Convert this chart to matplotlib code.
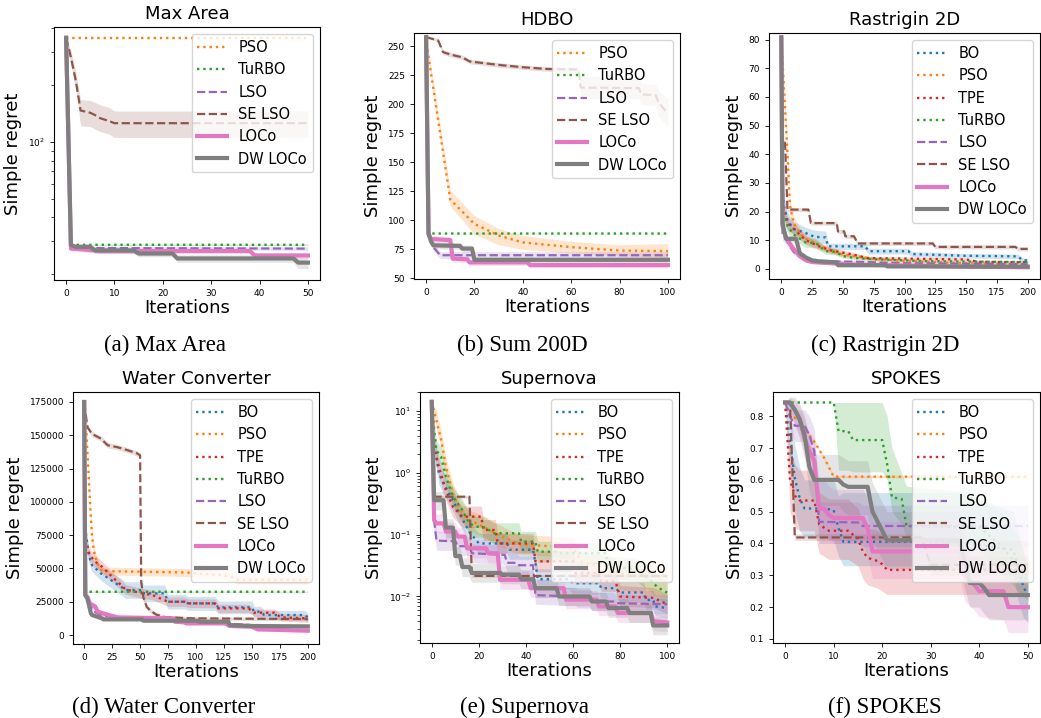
import matplotlib
matplotlib.use("Agg")
import matplotlib.pyplot as plt
from matplotlib.ticker import NullFormatter

# each series: (iteration, mean regret, lower band, upper band)

# ---- Max Area ----
AREA_PSO = [(0, 356, 356, 356), (50, 356, 356, 356)]
AREA_TURBO = [(0, 356, 356, 356), (1, 28.7, 28.4, 29.0), (50, 28.7, 28.4, 29.0)]
AREA_LSO = [(0, 356, 356, 356), (1, 27.6, 27.0, 28.2), (50, 27.4, 26.8, 28.0)]
AREA_SELSO = [(0, 356, 356, 356), (1, 280, 255, 305), (2, 212, 192, 235), (3, 147, 122, 168),
              (5, 143, 121, 166), (6, 139, 117, 162), (7, 134, 114, 158), (9, 129, 110, 152),
              (10, 126, 106, 146), (50, 126, 106, 146)]
AREA_LOCO = [(0, 356, 356, 356), (1, 27.4, 26.6, 28.2), (3, 27.2, 26.4, 28.0), (7, 26.6, 25.8, 27.4),
             (38, 26.6, 25.8, 27.4), (39, 25.2, 24.4, 26.0), (50, 25.2, 24.4, 26.0)]
AREA_DW = [(0, 356, 356, 356), (1, 28.6, 27.8, 29.4), (2, 28.0, 27.2, 28.8), (5, 28.0, 27.2, 28.8),
           (6, 26.8, 25.8, 27.8), (14, 26.8, 25.8, 27.8), (15, 25.8, 24.8, 26.8), (22, 25.8, 24.8, 26.8),
           (23, 24.3, 23.2, 25.4), (47, 24.3, 23.2, 25.4), (48, 23.1, 21.5, 24.6), (50, 23.1, 21.5, 24.6)]

# ---- HDBO (Sum 200D) ----
HDBO_PSO = [(0, 258, 258, 258), (1, 241, 237, 245), (10, 118, 112, 126), (20, 97, 88, 104),
            (30, 87, 79, 93), (40, 81, 75, 87), (60, 77, 72, 82), (80, 74, 69.5, 79), (100, 73.5, 68, 80)]
HDBO_TURBO = [(0, 258, 258, 258), (1, 88.7, 88.4, 89.0), (100, 88.7, 88.4, 89.0)]
HDBO_LSO = [(0, 258, 258, 258), (1, 88, 86, 90), (2, 82, 79, 85), (3, 77, 74, 80), (5, 72, 69, 75),
            (6, 70, 67, 73), (100, 70, 67, 73)]
HDBO_SELSO = [(0, 258, 257, 259), (5, 255, 254, 257), (7, 245, 243, 247), (10, 243, 241, 245),
              (15, 240.5, 238.5, 242.5), (18, 237, 235, 239), (20, 236.5, 234.5, 238.5),
              (30, 234, 232, 236), (40, 232, 230, 234), (50, 230.5, 228.5, 232.5), (63, 230, 228, 232),
              (64, 214.5, 205, 224), (88, 214, 205, 224), (89, 208.5, 200, 218), (95, 208, 199, 217),
              (96, 202, 190, 212), (100, 192, 181, 205)]
HDBO_LOCO = [(0, 258, 258, 258), (1, 88, 85, 91), (2, 84, 81, 87), (10, 83, 80, 86), (11, 67, 64, 70),
             (17, 66.5, 63.5, 69.5), (18, 63.8, 61, 66.5), (42, 63.8, 61, 66.5), (43, 61.5, 59, 64),
             (100, 61.5, 59, 64)]
HDBO_DW = [(0, 258, 258, 258), (1, 89, 86, 92), (2, 82, 79, 85), (3, 78.5, 75.5, 81.5), (14, 78, 75, 81),
           (15, 75.7, 72.7, 78.7), (19, 75.7, 72.7, 78.7), (20, 66, 63.5, 68.5), (100, 66, 63.5, 68.5)]

# ---- Rastrigin 2D ----
RAST_BO = [(0, 80.8, 80.8, 80.8), (1, 30, 25, 35), (2, 22, 18, 26), (5, 17, 14, 20), (10, 14, 12, 16.5),
           (20, 12.5, 10.5, 14.5), (27, 11.2, 9, 13.5), (36, 11, 8.8, 13.2), (38, 7.9, 6.8, 9),
           (68, 7.9, 6.8, 9), (71, 6.2, 5.2, 7.2), (103, 6.2, 5.2, 7.2), (106, 5.2, 4.3, 6.1),
           (150, 4.6, 3.8, 5.4), (192, 4.4, 3.6, 5.2), (196, 3.0, 2.3, 3.8), (200, 3.0, 2.3, 3.8)]
RAST_PSO = [(0, 80.8, 80.8, 80.8), (2, 64, 60, 68), (5, 40, 36, 44), (7, 22, 19, 25), (10, 16, 13.5, 18.5),
            (15, 12.5, 10.5, 14.5), (20, 10.5, 9, 12), (25, 9.5, 8, 11), (30, 8.5, 7.2, 9.8),
            (40, 6.5, 5.5, 7.5), (50, 5, 4.2, 5.8), (60, 4.5, 3.8, 5.2), (75, 3.5, 2.9, 4.1),
            (100, 2.8, 2.3, 3.3), (150, 2.0, 1.6, 2.4), (200, 1.5, 1.2, 1.8)]
RAST_TPE = [(0, 80.8, 80.8, 80.8), (1, 22, 18, 26), (5, 16, 13.5, 18.5), (10, 14, 12, 16), (20, 10, 8.5, 11.5),
            (30, 8, 6.8, 9.2), (40, 6.5, 5.5, 7.5), (49, 5.8, 4.9, 6.7), (60, 4.8, 4, 5.6), (70, 3.8, 3.2, 4.4),
            (150, 3.3, 2.8, 3.8), (160, 2.5, 2.1, 2.9), (200, 2.3, 1.9, 2.7)]
RAST_TURBO = [(0, 80.8, 80.8, 80.8), (1, 20, 17, 23), (5, 15, 12.5, 17.5), (10, 12, 10, 14), (20, 9.2, 7.5, 10.9),
              (28, 9, 7.3, 10.7), (36, 6.2, 5.1, 7.3), (44, 6, 4.9, 7.1), (50, 4.5, 3.8, 5.2),
              (60, 3.8, 3.2, 4.4), (75, 3.4, 2.9, 3.9), (100, 3.0, 2.5, 3.5), (120, 2.7, 2.3, 3.1),
              (200, 2.4, 2.0, 2.8)]
RAST_LSO = [(0, 80.8, 80.8, 80.8), (1, 12, 10, 14), (5, 9.5, 7.8, 11.2), (10, 6, 4.9, 7.1), (15, 4.5, 3.6, 5.4),
            (20, 3.2, 2.6, 3.8), (25, 2.6, 2.1, 3.1), (47, 2.6, 2.1, 3.1), (63, 2.5, 2.0, 3.0),
            (100, 2.0, 1.6, 2.4), (200, 1.6, 1.3, 1.9)]
RAST_SELSO = [(0, 80.8, 80.8, 80.8), (1, 44.5, 43.8, 45.2), (3, 44, 43.3, 44.7), (5, 20.7, 20, 21.4),
              (22, 20.7, 20, 21.4), (24, 16, 15.3, 16.7), (45, 16, 15.3, 16.7), (46, 13.1, 12.4, 13.8),
              (51, 13.1, 12.4, 13.8), (52, 11.4, 10.7, 12.1), (59, 11.4, 10.7, 12.1), (62, 8.9, 8.2, 9.6),
              (123, 8.9, 8.2, 9.6), (125, 7.7, 7.0, 8.4), (190, 7.7, 7.0, 8.4), (192, 7.0, 6.3, 7.7),
              (200, 7.0, 6.3, 7.7)]
RAST_LOCO = [(0, 80.8, 80.8, 80.8), (1, 15, 13, 17), (3, 12, 10.2, 13.8), (5, 10, 8.4, 11.6), (10, 7, 5.8, 8.2),
             (15, 4.5, 3.7, 5.3), (20, 3, 2.4, 3.6), (25, 2.4, 1.9, 2.9), (40, 2, 1.6, 2.4),
             (60, 1.5, 1.1, 1.9), (100, 1.2, 0.9, 1.5), (150, 0.8, 0.5, 1.1), (200, 0.6, 0.3, 0.9)]
RAST_DW = [(0, 80.8, 80.8, 80.8), (1, 16, 14.5, 17.5), (2, 13.7, 12.3, 15.1), (4, 10.5, 9.3, 11.7),
           (12, 10.5, 9.3, 11.7), (15, 5.5, 4.6, 6.4), (20, 4, 3.3, 4.7), (25, 3, 2.4, 3.6), (30, 2.7, 2.2, 3.2),
           (45, 2.3, 1.8, 2.8), (46, 1.3, 0.9, 1.7), (85, 1.3, 0.9, 1.7), (86, 0.9, 0.5, 1.3),
           (200, 0.8, 0.4, 1.2)]

# ---- Water Converter ----
WATER_BO = [(0, 175000, 175000, 175000), (1, 80000, 74000, 86000), (4, 60000, 55000, 65000),
            (7, 52500, 47500, 57500), (15, 46250, 41000, 51500), (24, 41250, 35500, 47000),
            (33, 36250, 30000, 42500), (37, 33750, 27500, 40000), (52, 33750, 27500, 40000),
            (53, 31250, 25000, 37500), (72, 31250, 25000, 37500), (75, 25000, 19500, 30500),
            (90, 25000, 19500, 30500), (93, 23750, 18500, 29000), (117, 23750, 18500, 29000),
            (120, 20750, 16000, 25500), (150, 20750, 16000, 25500), (152, 17500, 13500, 21500),
            (158, 17500, 13500, 21500), (161, 15000, 11500, 18500), (197, 15000, 11500, 18500),
            (200, 13250, 10000, 16500)]
WATER_PSO = [(0, 175000, 175000, 175000), (1, 165000, 160000, 170000), (2, 152000, 147000, 157000),
             (3, 135000, 130000, 140000), (4, 120000, 115000, 125000), (5, 103000, 98000, 108000),
             (6, 88000, 83000, 93000), (7, 75000, 70000, 80000), (8, 67000, 62000, 72000),
             (10, 58000, 54000, 62000), (13, 52000, 48500, 55500), (16, 48000, 45000, 51000),
             (90, 47000, 44000, 50000), (123, 45000, 42000, 48000), (132, 43500, 40500, 46500),
             (137, 41500, 38500, 44500), (200, 41500, 38500, 44500)]
WATER_TPE = [(0, 175000, 175000, 175000), (1, 74000, 68000, 80000), (3, 65000, 60000, 70000),
             (5, 60000, 55000, 65000), (10, 55000, 50500, 59500), (16, 51250, 47000, 55500),
             (25, 43750, 40000, 47500), (37, 34250, 30500, 38000), (52, 31250, 27500, 35000),
             (61, 30000, 26500, 33500), (75, 25000, 21500, 28500), (90, 25000, 21500, 28500),
             (93, 23750, 20500, 27000), (117, 23750, 20500, 27000), (120, 20000, 17000, 23000),
             (147, 20000, 17000, 23000), (152, 16750, 14000, 19500), (170, 16750, 14000, 19500),
             (176, 13250, 10500, 16000), (200, 12500, 9500, 15500)]
WATER_TURBO = [(0, 175000, 175000, 175000), (1, 32500, 32000, 33000), (200, 32500, 32000, 33000)]
WATER_LSO = [(0, 175000, 175000, 175000), (1, 30000, 28500, 31500), (5, 22000, 20500, 23500),
             (10, 17000, 15500, 18500), (15, 15000, 13700, 16300), (25, 13500, 12300, 14700),
             (50, 12000, 11000, 13000), (100, 10000, 9000, 11000), (150, 7500, 6500, 8500),
             (200, 6000, 5000, 7000)]
WATER_SELSO = [(0, 175000, 175000, 175000), (1, 168000, 166000, 170000), (3, 156000, 154000, 158000),
               (7, 151000, 149000, 153000), (15, 147500, 145500, 149500), (21, 142500, 140500, 144500),
               (30, 141000, 139000, 143000), (38, 139000, 137000, 141000), (47, 136500, 134500, 138500),
               (50, 135000, 133000, 137000), (51, 40000, 37000, 43000), (53, 28000, 25500, 30500),
               (56, 21000, 19000, 23000), (59, 18500, 16800, 20200), (64, 15500, 14000, 17000),
               (72, 13500, 12200, 14800), (96, 12500, 11200, 13800), (200, 12000, 10700, 13300)]
WATER_LOCO = [(0, 175000, 175000, 175000), (1, 30000, 28000, 32000), (3, 28500, 26500, 30500),
              (5, 23750, 21500, 26000), (10, 21250, 19000, 23500), (12, 17500, 15500, 19500),
              (22, 15000, 13500, 16500), (30, 13250, 12000, 14500), (80, 12500, 11300, 13700),
              (81, 10000, 8800, 11200), (90, 9500, 8300, 10700), (91, 8750, 7500, 10000),
              (126, 8750, 7500, 10000), (130, 6800, 5500, 8100), (150, 6250, 5000, 7500),
              (155, 4250, 3000, 5500), (200, 3250, 2000, 4500)]
WATER_DW = [(0, 175000, 175000, 175000), (1, 30000, 28500, 31500), (3, 27000, 25500, 28500),
            (6, 16250, 15000, 17500), (7, 15000, 13800, 16200), (16, 12500, 11500, 13500),
            (17, 11750, 10800, 12700), (52, 11750, 10800, 12700), (53, 10750, 9800, 11700),
            (102, 10750, 9800, 11700), (103, 10000, 9000, 11000), (129, 10000, 9000, 11000),
            (130, 7500, 6500, 8500), (150, 6750, 5700, 7800), (200, 6500, 5500, 7500)]

# ---- Supernova ----
SN_BO = [(0, 14, 14, 14), (1, 2.97, 2.0, 4.4), (3, 0.98, 0.65, 1.45), (5, 0.67, 0.45, 1.0), (9, 0.36, 0.24, 0.54),
         (12, 0.21, 0.14, 0.31), (16, 0.11, 0.075, 0.16), (20, 0.072, 0.05, 0.105), (32, 0.072, 0.05, 0.105),
         (33, 0.057, 0.04, 0.082), (43, 0.057, 0.04, 0.082), (44, 0.035, 0.024, 0.05),
         (45, 0.019, 0.013, 0.028), (58, 0.019, 0.013, 0.028), (60, 0.0164, 0.011, 0.024),
         (71, 0.0164, 0.011, 0.024), (72, 0.0136, 0.0095, 0.02), (78, 0.0136, 0.0095, 0.02),
         (80, 0.0116, 0.008, 0.017), (90, 0.0116, 0.008, 0.017), (91, 0.0088, 0.0062, 0.0125),
         (94, 0.0088, 0.0062, 0.0125), (95, 0.0069, 0.0049, 0.0097), (100, 0.0065, 0.0046, 0.0092)]
SN_PSO = [(0, 14, 14, 14), (2, 7, 5, 9.8), (4, 3.4, 2.4, 4.8), (6, 1.25, 0.85, 1.8), (9, 0.46, 0.31, 0.68),
          (12, 0.25, 0.17, 0.37), (16, 0.17, 0.115, 0.25), (22, 0.135, 0.09, 0.2), (27, 0.105, 0.07, 0.155),
          (37, 0.07, 0.048, 0.1), (50, 0.065, 0.045, 0.095), (60, 0.06, 0.04, 0.088),
          (64, 0.035, 0.024, 0.052), (75, 0.03, 0.02, 0.045), (80, 0.023, 0.013, 0.037),
          (100, 0.021, 0.0095, 0.035)]
SN_TPE = [(0, 14, 14, 14), (1, 2.6, 1.8, 3.8), (3, 1.25, 0.85, 1.85), (6, 0.52, 0.35, 0.77), (9, 0.28, 0.19, 0.41),
          (13, 0.195, 0.13, 0.29), (21, 0.195, 0.13, 0.29), (22, 0.119, 0.08, 0.175),
          (27, 0.119, 0.08, 0.175), (28, 0.072, 0.05, 0.105), (43, 0.072, 0.05, 0.105),
          (44, 0.037, 0.025, 0.055), (60, 0.037, 0.025, 0.055), (61, 0.024, 0.016, 0.036),
          (71, 0.024, 0.016, 0.036), (72, 0.0175, 0.012, 0.026), (78, 0.0175, 0.012, 0.026),
          (80, 0.010, 0.007, 0.015), (94, 0.0095, 0.0066, 0.014), (100, 0.0075, 0.0052, 0.011)]
SN_TURBO = [(0, 14, 14, 14), (1, 5, 3.5, 7), (2, 2.3, 1.6, 3.3), (4, 1.8, 1.25, 2.6), (6, 0.86, 0.6, 1.25),
            (9, 0.41, 0.28, 0.6), (13, 0.25, 0.17, 0.37), (16, 0.15, 0.1, 0.22), (19, 0.135, 0.09, 0.2),
            (23, 0.13, 0.088, 0.19), (26, 0.105, 0.07, 0.155), (37, 0.105, 0.07, 0.155),
            (38, 0.077, 0.052, 0.113), (44, 0.077, 0.052, 0.113), (45, 0.053, 0.036, 0.078),
            (54, 0.053, 0.036, 0.078), (55, 0.05, 0.034, 0.074), (74, 0.05, 0.034, 0.074),
            (75, 0.03, 0.02, 0.045), (87, 0.028, 0.018, 0.042), (90, 0.022, 0.014, 0.034),
            (93, 0.018, 0.012, 0.028), (96, 0.014, 0.009, 0.022), (100, 0.0115, 0.0075, 0.018)]
SN_LSO = [(0, 14, 14, 14), (1, 0.17, 0.12, 0.24), (2, 0.08, 0.056, 0.114), (10, 0.078, 0.055, 0.11),
          (11, 0.065, 0.046, 0.092), (16, 0.065, 0.046, 0.092), (17, 0.05, 0.035, 0.071),
          (31, 0.047, 0.033, 0.067), (32, 0.035, 0.025, 0.05), (36, 0.035, 0.025, 0.05),
          (37, 0.032, 0.023, 0.045), (43, 0.032, 0.023, 0.045), (44, 0.0105, 0.0075, 0.015),
          (61, 0.010, 0.0071, 0.014), (62, 0.0094, 0.0067, 0.013), (67, 0.0094, 0.0067, 0.013),
          (68, 0.0083, 0.0059, 0.0117), (77, 0.0083, 0.0059, 0.0117), (78, 0.0078, 0.0055, 0.011),
          (100, 0.0075, 0.0053, 0.0106)]
SN_SELSO = [(0, 14, 14, 14), (1, 0.41, 0.39, 0.43), (16, 0.41, 0.39, 0.43), (17, 0.0215, 0.0205, 0.0225),
            (100, 0.0215, 0.0205, 0.0225)]
SN_LOCO = [(0, 14, 14, 14), (1, 0.17, 0.12, 0.24), (2, 0.152, 0.107, 0.215), (5, 0.152, 0.107, 0.215),
           (6, 0.112, 0.079, 0.158), (10, 0.112, 0.079, 0.158), (11, 0.093, 0.066, 0.13),
           (14, 0.093, 0.066, 0.13), (15, 0.06, 0.042, 0.085), (23, 0.06, 0.042, 0.085),
           (24, 0.05, 0.035, 0.071), (28, 0.05, 0.035, 0.071), (29, 0.0186, 0.013, 0.026),
           (41, 0.0186, 0.013, 0.026), (42, 0.0136, 0.0096, 0.019), (56, 0.0136, 0.0096, 0.019),
           (57, 0.0089, 0.0063, 0.0125), (70, 0.0089, 0.0063, 0.0125), (71, 0.0069, 0.0049, 0.0097),
           (78, 0.0069, 0.0049, 0.0097), (79, 0.0054, 0.0038, 0.0076), (93, 0.0054, 0.0038, 0.0076),
           (94, 0.0040, 0.0028, 0.0056), (100, 0.0038, 0.0027, 0.0054)]
SN_DW = [(0, 14, 14, 14), (1, 0.36, 0.25, 0.5), (5, 0.36, 0.25, 0.5), (6, 0.13, 0.09, 0.18), (9, 0.13, 0.09, 0.18),
         (10, 0.045, 0.032, 0.064), (12, 0.045, 0.032, 0.064), (13, 0.030, 0.021, 0.042),
         (16, 0.030, 0.021, 0.042), (17, 0.024, 0.017, 0.034), (29, 0.024, 0.017, 0.034),
         (30, 0.0226, 0.016, 0.032), (37, 0.0226, 0.016, 0.032), (38, 0.019, 0.0134, 0.027),
         (43, 0.019, 0.0134, 0.027), (44, 0.0136, 0.0096, 0.019), (53, 0.0136, 0.0096, 0.019),
         (54, 0.010, 0.0071, 0.014), (67, 0.010, 0.0071, 0.014), (68, 0.0083, 0.0059, 0.0117),
         (74, 0.0083, 0.0059, 0.0117), (75, 0.0065, 0.0046, 0.0092), (83, 0.0065, 0.0046, 0.0092),
         (84, 0.0054, 0.0038, 0.0076), (93, 0.0054, 0.0038, 0.0076), (94, 0.0034, 0.0024, 0.0048),
         (100, 0.0034, 0.0024, 0.0048)]

# ---- SPOKES ----
SP_BO = [(0, 0.843, 0.843, 0.843), (1, 0.72, 0.62, 0.82), (2, 0.605, 0.5, 0.71), (3, 0.542, 0.44, 0.64),
         (4, 0.51, 0.42, 0.6), (8, 0.51, 0.42, 0.6), (10, 0.505, 0.41, 0.6), (11, 0.448, 0.36, 0.55),
         (12, 0.405, 0.33, 0.56), (36, 0.405, 0.33, 0.56), (47, 0.38, 0.3, 0.5), (48, 0.32, 0.22, 0.44),
         (49, 0.27, 0.17, 0.38), (50, 0.23, 0.15, 0.32)]
SP_PSO = [(0, 0.843, 0.843, 0.843), (1, 0.80, 0.796, 0.804), (3, 0.79, 0.786, 0.794), (4, 0.76, 0.756, 0.764),
          (6, 0.72, 0.716, 0.724), (8, 0.67, 0.666, 0.674), (9, 0.64, 0.636, 0.644), (10, 0.61, 0.606, 0.614),
          (50, 0.61, 0.606, 0.614)]
SP_TPE = [(0, 0.843, 0.843, 0.843), (1, 0.6, 0.5, 0.7), (2, 0.55, 0.45, 0.65), (3, 0.535, 0.44, 0.63),
          (6, 0.535, 0.44, 0.63), (7, 0.46, 0.37, 0.56), (9, 0.44, 0.35, 0.54), (13, 0.44, 0.35, 0.54),
          (15, 0.415, 0.33, 0.51), (16, 0.375, 0.29, 0.47), (17, 0.355, 0.27, 0.45), (19, 0.345, 0.26, 0.44),
          (20, 0.335, 0.25, 0.43), (21, 0.317, 0.24, 0.41), (50, 0.317, 0.24, 0.41)]
SP_TURBO = [(0, 0.843, 0.843, 0.843), (10, 0.843, 0.843, 0.843), (11, 0.753, 0.63, 0.843),
            (13, 0.753, 0.63, 0.843), (14, 0.725, 0.625, 0.843), (20, 0.725, 0.625, 0.843),
            (21, 0.65, 0.6, 0.8), (22, 0.545, 0.5, 0.7), (24, 0.54, 0.46, 0.62), (25, 0.455, 0.42, 0.58),
            (40, 0.45, 0.38, 0.56), (44, 0.4, 0.32, 0.5), (48, 0.33, 0.25, 0.42), (50, 0.28, 0.22, 0.34)]
SP_LSO = [(0, 0.843, 0.843, 0.843), (1, 0.80, 0.76, 0.84), (2, 0.77, 0.72, 0.82), (4, 0.77, 0.72, 0.82),
          (5, 0.74, 0.68, 0.8), (6, 0.69, 0.6, 0.76), (7, 0.468, 0.4, 0.53), (15, 0.466, 0.4, 0.53),
          (16, 0.455, 0.39, 0.52), (50, 0.455, 0.39, 0.52)]
SP_SELSO = [(0, 0.843, 0.843, 0.843), (1, 0.843, 0.843, 0.843), (2, 0.419, 0.41, 0.43), (28, 0.419, 0.41, 0.43),
            (30, 0.333, 0.3, 0.36), (50, 0.333, 0.3, 0.36)]
SP_LOCO = [(0, 0.843, 0.843, 0.843), (1, 0.843, 0.82, 0.86), (2, 0.82, 0.78, 0.85), (3, 0.79, 0.74, 0.83),
           (4, 0.73, 0.67, 0.79), (5, 0.69, 0.62, 0.75), (6, 0.66, 0.58, 0.73), (7, 0.51, 0.43, 0.6),
           (8, 0.51, 0.43, 0.6), (9, 0.49, 0.41, 0.58), (10, 0.48, 0.40, 0.57), (16, 0.48, 0.40, 0.57),
           (17, 0.448, 0.36, 0.54), (18, 0.375, 0.29, 0.47), (36, 0.375, 0.29, 0.47), (37, 0.30, 0.22, 0.39),
           (39, 0.27, 0.19, 0.36), (40, 0.25, 0.17, 0.34), (45, 0.25, 0.16, 0.34), (46, 0.20, 0.12, 0.28),
           (50, 0.20, 0.12, 0.28)]
SP_DW = [(0, 0.843, 0.843, 0.843), (1, 0.843, 0.82, 0.86), (2, 0.82, 0.77, 0.86), (3, 0.79, 0.73, 0.84),
         (4, 0.74, 0.67, 0.8), (5, 0.64, 0.56, 0.72), (6, 0.60, 0.52, 0.68), (11, 0.60, 0.52, 0.68),
         (12, 0.585, 0.5, 0.67), (13, 0.578, 0.49, 0.66), (17, 0.578, 0.49, 0.66), (18, 0.50, 0.41, 0.59),
         (19, 0.47, 0.38, 0.56), (20, 0.44, 0.35, 0.53), (21, 0.41, 0.32, 0.5), (36, 0.41, 0.32, 0.5),
         (37, 0.34, 0.26, 0.43), (38, 0.276, 0.2, 0.36), (40, 0.276, 0.2, 0.36), (41, 0.26, 0.18, 0.34),
         (42, 0.238, 0.16, 0.32), (50, 0.238, 0.16, 0.32)]

# color, linestyle, linewidth per method
STYLES = {
    "BO": ("tab:blue", ":", 1.7),
    "PSO": ("tab:orange", ":", 1.7),
    "TPE": ("tab:red", ":", 1.7),
    "TuRBO": ("tab:green", ":", 1.7),
    "LSO": ("tab:purple", "--", 1.6),
    "SE LSO": ("tab:brown", "--", 1.6),
    "LOCo": ("tab:pink", "-", 3.0),
    "DW LOCo": ("tab:gray", "-", 3.0),
}

W, H = 1041, 718
fig = plt.figure(figsize=(W / 100, H / 100), dpi=100)


def add_ax(l, t, r, b):
    return fig.add_axes([l / W, 1 - b / H, (r - l) / W, (b - t) / H])


def panel(ax, series, title, ylim, logy=False):
    for name, data in series:
        c, ls, lw = STYLES[name]
        it = [p[0] for p in data]
        m = [p[1] for p in data]
        lo = [p[2] for p in data]
        hi = [p[3] for p in data]
        ax.fill_between(it, lo, hi, color=c, alpha=0.2, linewidth=0)
        ax.plot(it, m, color=c, linestyle=ls, linewidth=lw, label=name)
    if logy:
        ax.set_yscale("log")
        ax.yaxis.set_minor_formatter(NullFormatter())
    ax.set_ylim(*ylim)
    ax.set_title(title, fontsize=13)
    ax.set_xlabel("Iterations", fontsize=13, labelpad=1)
    ax.set_ylabel("Simple regret", fontsize=13)
    ax.tick_params(labelsize=6.5, length=3, width=0.6)
    ax.tick_params(which="minor", length=2, width=0.5)
    ax.legend(loc="upper right", fontsize=10.5, handlelength=2.0)


six = ["PSO", "TuRBO", "LSO", "SE LSO", "LOCo", "DW LOCo"]
eight = ["BO", "PSO", "TPE", "TuRBO", "LSO", "SE LSO", "LOCo", "DW LOCo"]

area = dict(zip(six, [AREA_PSO, AREA_TURBO, AREA_LSO, AREA_SELSO, AREA_LOCO, AREA_DW]))
hdbo = dict(zip(six, [HDBO_PSO, HDBO_TURBO, HDBO_LSO, HDBO_SELSO, HDBO_LOCO, HDBO_DW]))
rast = dict(zip(eight, [RAST_BO, RAST_PSO, RAST_TPE, RAST_TURBO, RAST_LSO, RAST_SELSO, RAST_LOCO, RAST_DW]))
water = dict(zip(eight, [WATER_BO, WATER_PSO, WATER_TPE, WATER_TURBO, WATER_LSO, WATER_SELSO,
                         WATER_LOCO, WATER_DW]))
sn = dict(zip(eight, [SN_BO, SN_PSO, SN_TPE, SN_TURBO, SN_LSO, SN_SELSO, SN_LOCO, SN_DW]))
sp = dict(zip(eight, [SP_BO, SP_PSO, SP_TPE, SP_TURBO, SP_LSO, SP_SELSO, SP_LOCO, SP_DW]))

panel(add_ax(54, 27, 320, 280), list(area.items()), "Max Area", (18.7, 406), logy=True)
panel(add_ax(414, 33, 680, 279), list(hdbo.items()), "HDBO", (49.5, 261.5))
panel(add_ax(769, 33, 1040, 279), list(rast.items()), "Rastrigin 2D", (-3.5, 82.3))
panel(add_ax(73, 392, 319, 644), list(water.items()), "Water Converter", (-6750, 182500))
panel(add_ax(420, 392, 679, 643), list(sn.items()), "Supernova", (0.00177, 20.2), logy=True)
panel(add_ax(773, 392, 1040, 643), list(sp.items()), "SPOKES", (0.0873, 0.876))

captions = [("(a) Max Area", 165, 345), ("(b) Sum 200D", 522, 345), ("(c) Rastrigin 2D", 885, 345),
            ("(d) Water Converter", 164, 707), ("(e) Supernova", 525, 707), ("(f) SPOKES", 885, 707)]
for txt, x, y in captions:
    fig.text(x / W, 1 - y / H, txt, ha="center", va="center", family="Liberation Serif", fontsize=16.5)

fig.savefig("out.png", dpi=100)
